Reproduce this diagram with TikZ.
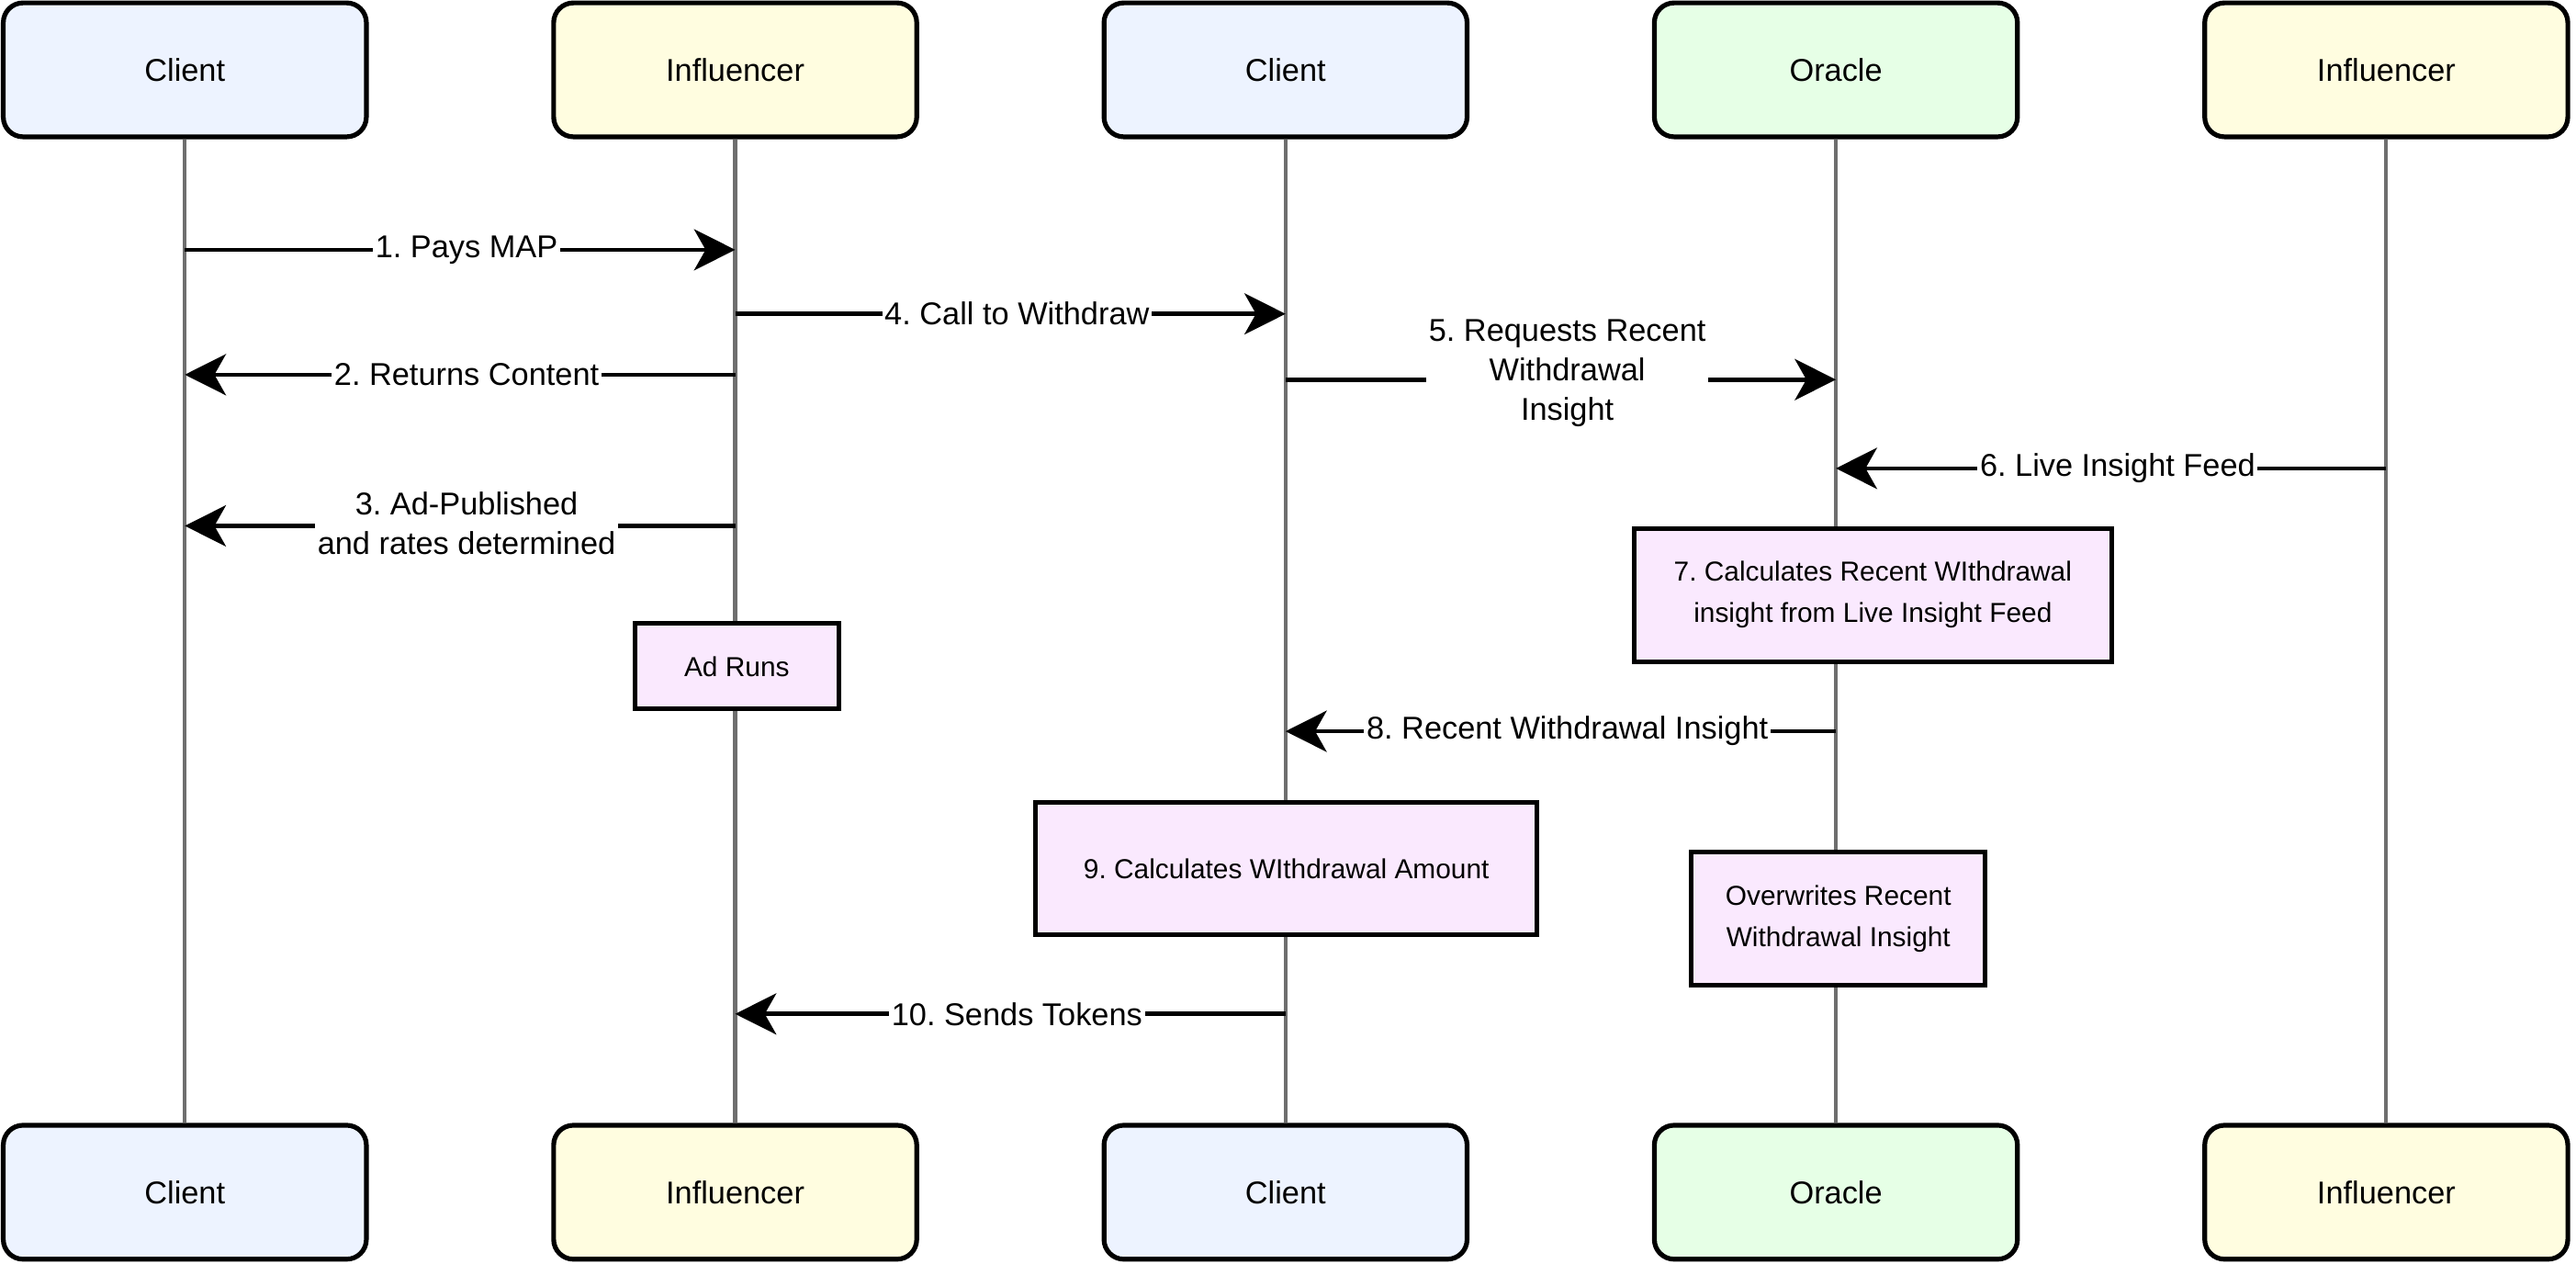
\documentclass[tikz,border=0pt]{standalone}
\usepackage{fontspec}
\setmainfont{Liberation Sans}
\usetikzlibrary{arrows.meta}
\definecolor{clientfill}{HTML}{EDF3FF}
\definecolor{inflfill}{HTML}{FFFDE0}
\definecolor{oraclefill}{HTML}{E6FFE6}
\definecolor{actfill}{HTML}{FAE9FE}
\definecolor{lifegray}{HTML}{6E6E6E}
\frenchspacing
\begin{document}
\frenchspacing
\begin{tikzpicture}[x=1pt,y=-1pt,
  actor/.style={draw=black, line width=2.9pt, rounded corners=12pt,
    minimum width=221pt, minimum height=81.5pt, inner sep=0pt,
    font=\fontsize{19.2}{23}\selectfont},
  lifeline/.style={draw=lifegray, line width=2.3pt},
  msg/.style={draw=black, line width=2.6pt,
    -{Stealth[length=25pt,width=25pt,inset=7pt]}},
  lab/.style={fill=white, inner xsep=1.5pt, inner ysep=1pt, align=center,
    font=\fontsize{19.2}{24}\selectfont},
  act/.style={draw=black, fill=actfill, line width=2.8pt, inner sep=0pt,
    align=center, font=\fontsize{16.7}{25}\selectfont}
]
\useasboundingbox (0,0) rectangle (1568,769);

% top actors
\node[actor, fill=clientfill] (c1t) at (112.5,42.5) {Client};
\node[actor, fill=inflfill]   (i1t) at (447.5,42.5) {Influencer};
\node[actor, fill=clientfill] (c2t) at (782.5,42.5) {Client};
\node[actor, fill=oraclefill] (o1t) at (1117.5,42.5) {Oracle};
\node[actor, fill=inflfill]   (i2t) at (1452.5,42.5) {Influencer};
% bottom actors
\node[actor, fill=clientfill] (c1b) at (112.5,725.5) {Client};
\node[actor, fill=inflfill]   (i1b) at (447.5,725.5) {Influencer};
\node[actor, fill=clientfill] (c2b) at (782.5,725.5) {Client};
\node[actor, fill=oraclefill] (o1b) at (1117.5,725.5) {Oracle};
\node[actor, fill=inflfill]   (i2b) at (1452.5,725.5) {Influencer};

% lifelines
\draw[lifeline] (c1t) -- (c1b);
\draw[lifeline] (i1t) -- (i1b);
\draw[lifeline] (c2t) -- (c2b);
\draw[lifeline] (o1t) -- (o1b);
\draw[lifeline] (i2t) -- (i2b);

% activity boxes
\node[act, minimum width=124pt, minimum height=52pt] (adruns) at (448.5,405.5) {Ad Runs};
\node[act, minimum width=291pt, minimum height=81pt] (calc7) at (1140,362) {7. Calculates Recent WIthdrawal\\insight from Live Insight Feed};
\node[act, minimum width=305pt, minimum height=80pt] (calc9) at (783,528.5) {9. Calculates WIthdrawal Amount};
\node[act, minimum width=179pt, minimum height=81pt] (overw) at (1119,559) {Overwrites Recent\\Withdrawal Insight};

% messages
\draw[msg] (c1t.south |- 0,152) -- (i1t.south |- 0,152)
  node[lab, midway, xshift=4pt] (l1) {1. Pays MAP};
\draw[msg] (i1t.south |- 0,191) -- (c2t.south |- 0,191)
  node[lab, midway, xshift=4pt] (l4) {4. Call to Withdraw};
\draw[msg] (i1t.south |- 0,228) -- (c1t.south |- 0,228)
  node[lab, midway, xshift=4pt] (l2) {2. Returns Content};
\draw[msg] (c2t.south |- 0,231) -- (o1t.south |- 0,231)
  node[lab, midway, xshift=4pt, yshift=4pt] (l5) {5. Requests Recent\\Withdrawal\\Insight};
\draw[msg] (i2t.south |- 0,285) -- (o1t.south |- 0,285)
  node[lab, midway, xshift=4pt] (l6) {6. Live Insight Feed};
\draw[msg] (i1t.south |- 0,320) -- (c1t.south |- 0,320)
  node[lab, midway, xshift=4pt, yshift=1.5pt] (l3) {3. Ad-Published\\and rates determined};
\draw[msg] (o1t.south |- 0,445) -- (c2t.south |- 0,445)
  node[lab, midway, xshift=4pt] (l8) {8. Recent Withdrawal Insight};
\draw[msg] (c2t.south |- 0,617) -- (i1t.south |- 0,617)
  node[lab, midway, xshift=4pt] (l10) {10. Sends Tokens};
\end{tikzpicture}
\end{document}
